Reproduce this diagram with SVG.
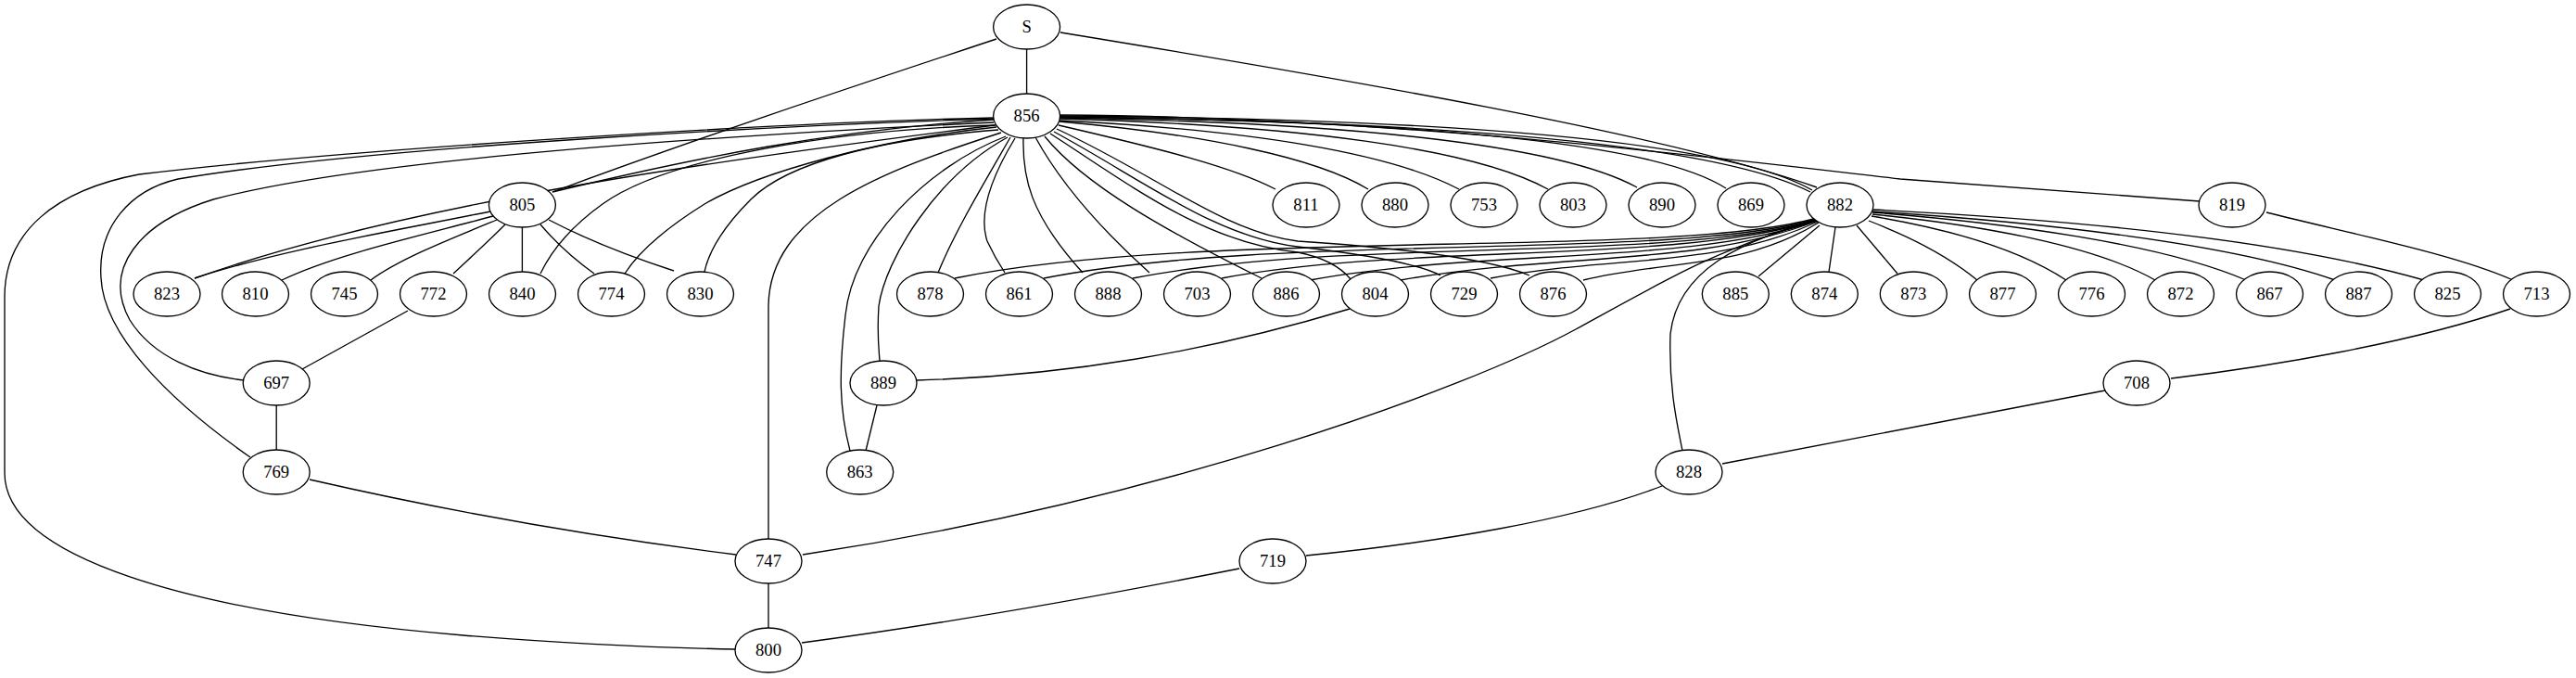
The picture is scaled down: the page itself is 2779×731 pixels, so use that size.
<svg xmlns="http://www.w3.org/2000/svg" width="2779" height="731" viewBox="0 0 2779 731">
<style>
.e{fill:none;stroke:#000;stroke-width:1.33}
.n ellipse{fill:#fff;stroke:#000;stroke-width:1.33}
.n text{font-family:'Liberation Serif','DejaVu Serif','Times New Roman',serif;font-size:18.67px;text-anchor:middle;fill:#000}
</style>
<rect width="2779" height="731" fill="#fff"/>
<g id="edges">
<path class="e" d="M1107.6,53 L1107.6,101"/>
<path class="e" d="M1075,42 C900,100 750,150 596,207"/>
<path class="e" d="M1144,35 C1450,85 1800,145 1960,202"/>
<path class="e" d="M1072,129 C900,140 750,170 596,207"/>
<path class="e" d="M1072,127 C850,132 380,160 150,188 C60,205 5,250 5,320 L5,510 C5,600 200,660 500,685 C650,697 740,699 794,700"/>
<path class="e" d="M1072,128 C850,135 400,158 192,193 C140,205 105,245 109,300 C112,360 180,430 270,493"/>
<path class="e" d="M1072,132 C800,145 400,170 230,215 C150,240 110,290 140,345 C165,385 215,405 264,410"/>
<path class="e" d="M1073,135 C800,170 450,215 210,300"/>
<path class="e" d="M529,228 C420,250 300,270 210,300"/>
<path class="e" d="M532,233 C450,255 360,275 304,302"/>
<path class="e" d="M536,237 C480,260 430,280 400,302"/>
<path class="e" d="M545,242 C525,262 505,280 489,295"/>
<path class="e" d="M563.4,245 L563.4,293"/>
<path class="e" d="M583,242 C600,262 620,280 641,295"/>
<path class="e" d="M592,237 C640,262 690,280 727,292"/>
<path class="e" d="M1074,135 C900,140 720,170 650,220 C615,245 595,270 583,295"/>
<path class="e" d="M1075,137 C950,150 820,185 760,220 C720,245 690,270 674,295"/>
<path class="e" d="M1077,140 C950,150 850,175 810,215 C780,245 765,270 760,293"/>
<path class="e" d="M1080,143 C950,185 830,230 829,330 L829,581"/>
<path class="e" d="M1085,147 C1000,180 920,260 912,340 C905,400 905,440 917,486"/>
<path class="e" d="M1087,148 C1010,190 955,280 948,330 C946,360 948,375 949,389"/>
<path class="e" d="M1090,148 C1060,200 1030,250 1012,294"/>
<path class="e" d="M1095,149 C1070,190 1055,230 1065,260 C1072,275 1078,285 1084,294"/>
<path class="e" d="M1104,149 C1103,190 1110,230 1168,294"/>
<path class="e" d="M1117,148 C1140,190 1180,240 1240,294"/>
<path class="e" d="M1127,147 C1170,200 1260,250 1361,300"/>
<path class="e" d="M1133,144 C1220,200 1300,262 1400,272 C1430,278 1448,290 1457,301"/>
<path class="e" d="M1137,142 C1235,195 1310,255 1400,266 C1470,274 1530,284 1554,297"/>
<path class="e" d="M1140,139 C1250,190 1320,250 1400,260 C1520,268 1610,280 1650,297"/>
<path class="e" d="M1142,135 C1250,160 1330,180 1376,204"/>
<path class="e" d="M1143,131 C1300,145 1420,170 1476,204"/>
<path class="e" d="M1143,130 C1350,140 1500,165 1574,204"/>
<path class="e" d="M1143,128 C1400,135 1590,160 1670,204"/>
<path class="e" d="M1143,127 C1450,132 1680,155 1766,202"/>
<path class="e" d="M1143,126 C1500,130 1780,150 1862,203"/>
<path class="e" d="M1143,125 C1550,128 1860,150 1955,205"/>
<path class="e" d="M1143,126 C1550,131 1850,155 1953,207"/>
<path class="e" d="M1143,124 C1500,126 1850,170 2050,193 C2200,205 2300,212 2373,217"/>
<path class="e" d="M1960,235 C1800,280 1300,245 1030,300"/>
<path class="e" d="M1960,236 C1800,282 1380,250 1126,300"/>
<path class="e" d="M1960,237 C1800,284 1450,255 1222,300"/>
<path class="e" d="M1960,237 C1810,285 1520,262 1318,300"/>
<path class="e" d="M1960,238 C1820,286 1600,268 1413,302"/>
<path class="e" d="M1961,238 C1830,288 1680,272 1511,302"/>
<path class="e" d="M1961,239 C1850,290 1740,275 1608,300"/>
<path class="e" d="M1962,240 C1880,290 1800,280 1708,302"/>
<path class="e" d="M1957,238 C1850,270 1800,300 1700,355 C1580,420 1250,540 866,598"/>
<path class="e" d="M1957,238 C1880,260 1810,290 1802,360 C1800,420 1810,460 1815,486"/>
<path class="e" d="M1963,243 L1897,298"/>
<path class="e" d="M1980,245 L1973,293"/>
<path class="e" d="M2003,243 L2047,295"/>
<path class="e" d="M2016,238 C2060,255 2100,275 2133,302"/>
<path class="e" d="M2019,233 C2110,248 2180,270 2229,302"/>
<path class="e" d="M2020,231 C2140,243 2260,265 2325,302"/>
<path class="e" d="M2020,229 C2160,240 2330,262 2423,302"/>
<path class="e" d="M2020,228 C2180,238 2400,260 2519,302"/>
<path class="e" d="M2020,226 C2200,235 2450,255 2615,302"/>
<path class="e" d="M2445,229 C2550,255 2650,275 2711,302"/>
<path class="e" d="M2708,333 C2600,370 2450,395 2342,408"/>
<path class="e" d="M2271,421 L1858,500"/>
<path class="e" d="M1793,524 C1700,560 1550,585 1409,599"/>
<path class="e" d="M1337,613 C1150,650 1000,675 865,693"/>
<path class="e" d="M829,629 L829,677"/>
<path class="e" d="M334,517 C500,555 650,580 794,598"/>
<path class="e" d="M298.2,437 L298.2,485"/>
<path class="e" d="M440,335 L326,398"/>
<path class="e" d="M946,437 L934,486"/>
<path class="e" d="M1456,333 C1300,380 1150,405 989,410"/>
</g>
<g font-family="Liberation Serif, DejaVu Serif, serif">
<g id="node-S" class="n"><ellipse cx="1107.6" cy="29" rx="36" ry="24"/><text x="1107.6" y="35">S</text></g>
<g id="node-856" class="n"><ellipse cx="1107.6" cy="125" rx="36" ry="24"/><text x="1107.6" y="131">856</text></g>
<g id="node-805" class="n"><ellipse cx="563.4" cy="221" rx="36" ry="24"/><text x="563.4" y="227">805</text></g>
<g id="node-811" class="n"><ellipse cx="1409" cy="221" rx="36" ry="24"/><text x="1409" y="227">811</text></g>
<g id="node-880" class="n"><ellipse cx="1505" cy="221" rx="36" ry="24"/><text x="1505" y="227">880</text></g>
<g id="node-753" class="n"><ellipse cx="1601" cy="221" rx="36" ry="24"/><text x="1601" y="227">753</text></g>
<g id="node-803" class="n"><ellipse cx="1697" cy="221" rx="36" ry="24"/><text x="1697" y="227">803</text></g>
<g id="node-890" class="n"><ellipse cx="1793" cy="221" rx="36" ry="24"/><text x="1793" y="227">890</text></g>
<g id="node-869" class="n"><ellipse cx="1889" cy="221" rx="36" ry="24"/><text x="1889" y="227">869</text></g>
<g id="node-882" class="n"><ellipse cx="1985" cy="221" rx="36" ry="24"/><text x="1985" y="227">882</text></g>
<g id="node-819" class="n"><ellipse cx="2408" cy="221" rx="36" ry="24"/><text x="2408" y="227">819</text></g>
<g id="node-823" class="n"><ellipse cx="180" cy="317" rx="36" ry="24"/><text x="180" y="323">823</text></g>
<g id="node-810" class="n"><ellipse cx="275.5" cy="317" rx="36" ry="24"/><text x="275.5" y="323">810</text></g>
<g id="node-745" class="n"><ellipse cx="371.5" cy="317" rx="36" ry="24"/><text x="371.5" y="323">745</text></g>
<g id="node-772" class="n"><ellipse cx="467.5" cy="317" rx="36" ry="24"/><text x="467.5" y="323">772</text></g>
<g id="node-840" class="n"><ellipse cx="563.5" cy="317" rx="36" ry="24"/><text x="563.5" y="323">840</text></g>
<g id="node-774" class="n"><ellipse cx="659.5" cy="317" rx="36" ry="24"/><text x="659.5" y="323">774</text></g>
<g id="node-830" class="n"><ellipse cx="755.5" cy="317" rx="36" ry="24"/><text x="755.5" y="323">830</text></g>
<g id="node-878" class="n"><ellipse cx="1003.5" cy="317" rx="36" ry="24"/><text x="1003.5" y="323">878</text></g>
<g id="node-861" class="n"><ellipse cx="1099.5" cy="317" rx="36" ry="24"/><text x="1099.5" y="323">861</text></g>
<g id="node-888" class="n"><ellipse cx="1195.5" cy="317" rx="36" ry="24"/><text x="1195.5" y="323">888</text></g>
<g id="node-703" class="n"><ellipse cx="1291.5" cy="317" rx="36" ry="24"/><text x="1291.5" y="323">703</text></g>
<g id="node-886" class="n"><ellipse cx="1387.5" cy="317" rx="36" ry="24"/><text x="1387.5" y="323">886</text></g>
<g id="node-804" class="n"><ellipse cx="1483.5" cy="317" rx="36" ry="24"/><text x="1483.5" y="323">804</text></g>
<g id="node-729" class="n"><ellipse cx="1579.5" cy="317" rx="36" ry="24"/><text x="1579.5" y="323">729</text></g>
<g id="node-876" class="n"><ellipse cx="1675.5" cy="317" rx="36" ry="24"/><text x="1675.5" y="323">876</text></g>
<g id="node-885" class="n"><ellipse cx="1872.3" cy="317" rx="36" ry="24"/><text x="1872.3" y="323">885</text></g>
<g id="node-874" class="n"><ellipse cx="1968.3" cy="317" rx="36" ry="24"/><text x="1968.3" y="323">874</text></g>
<g id="node-873" class="n"><ellipse cx="2064.3" cy="317" rx="36" ry="24"/><text x="2064.3" y="323">873</text></g>
<g id="node-877" class="n"><ellipse cx="2160.5" cy="317" rx="36" ry="24"/><text x="2160.5" y="323">877</text></g>
<g id="node-776" class="n"><ellipse cx="2256.5" cy="317" rx="36" ry="24"/><text x="2256.5" y="323">776</text></g>
<g id="node-872" class="n"><ellipse cx="2352.5" cy="317" rx="36" ry="24"/><text x="2352.5" y="323">872</text></g>
<g id="node-867" class="n"><ellipse cx="2448.5" cy="317" rx="36" ry="24"/><text x="2448.5" y="323">867</text></g>
<g id="node-887" class="n"><ellipse cx="2544.5" cy="317" rx="36" ry="24"/><text x="2544.5" y="323">887</text></g>
<g id="node-825" class="n"><ellipse cx="2640.5" cy="317" rx="36" ry="24"/><text x="2640.5" y="323">825</text></g>
<g id="node-713" class="n"><ellipse cx="2736.5" cy="317" rx="36" ry="24"/><text x="2736.5" y="323">713</text></g>
<g id="node-697" class="n"><ellipse cx="298.2" cy="413" rx="36" ry="24"/><text x="298.2" y="419">697</text></g>
<g id="node-889" class="n"><ellipse cx="953" cy="413" rx="36" ry="24"/><text x="953" y="419">889</text></g>
<g id="node-708" class="n"><ellipse cx="2305" cy="413" rx="36" ry="24"/><text x="2305" y="419">708</text></g>
<g id="node-769" class="n"><ellipse cx="298.2" cy="509" rx="36" ry="24"/><text x="298.2" y="515">769</text></g>
<g id="node-863" class="n"><ellipse cx="927.7" cy="509" rx="36" ry="24"/><text x="927.7" y="515">863</text></g>
<g id="node-828" class="n"><ellipse cx="1822" cy="509" rx="36" ry="24"/><text x="1822" y="515">828</text></g>
<g id="node-747" class="n"><ellipse cx="829" cy="605" rx="36" ry="24"/><text x="829" y="611">747</text></g>
<g id="node-719" class="n"><ellipse cx="1373" cy="605" rx="36" ry="24"/><text x="1373" y="611">719</text></g>
<g id="node-800" class="n"><ellipse cx="829" cy="701" rx="36" ry="24"/><text x="829" y="707">800</text></g>
</g>
</svg>
